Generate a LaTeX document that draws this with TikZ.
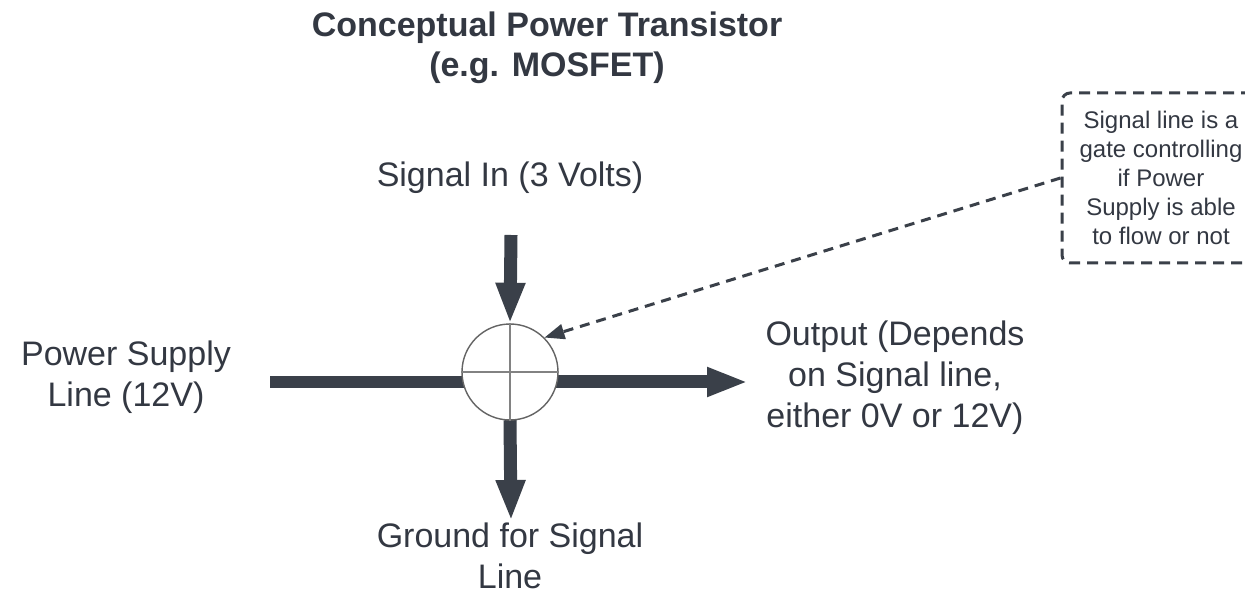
\documentclass[tikz,border=0pt]{standalone}
\usepackage{fontspec}
\setmainfont{Liberation Sans}
\usetikzlibrary{arrows.meta}
\definecolor{txt}{RGB}{51,56,66}
\definecolor{arr}{RGB}{58,64,73}
\definecolor{ring}{RGB}{100,100,100}
\definecolor{crossc}{RGB}{130,130,130}
\begin{document}
\begin{tikzpicture}[x=1pt,y=-1pt,
  lbl/.style={text=txt,align=center,inner sep=0pt,font=\fontsize{34}{41}\selectfont},
  small/.style={text=txt,align=center,inner sep=0pt,font=\fontsize{24}{29}\selectfont},
  thick arrow/.style={draw=arr,line width=13pt,-{Triangle[length=41pt,width=27pt]}},
  thick bar/.style={draw=arr,line width=12pt},
  dash link/.style={draw=arr,line width=3pt,dash pattern=on 10pt off 7pt,-{Triangle[length=20pt,width=15pt]}},
  note/.style={draw=arr,line width=3pt,dash pattern=on 11pt off 7pt,rounded corners=8pt,minimum width=198pt,minimum height=170pt,inner sep=0pt}
]
\useasboundingbox (0,0) rectangle (1245,593);
\fill[white] (0,0) rectangle (1245,593);

% titles and labels
\node[lbl,font=\fontsize{34}{40}\selectfont\bfseries] (title) at (547,48) {Conceptual Power Transistor\\(e.g. MOSFET)};
\node[lbl] (sigin) at (510,178) {Signal In (3 Volts)};
\node[lbl] (psl) at (126,377) {Power Supply\\Line (12V)};
\node[lbl] (outl) at (895,378) {Output (Depends\\on Signal line,\\either 0V or 12V)};
\node[lbl] (gnd) at (510,556) {Ground for Signal\\Line};

% coordinates
\coordinate (sigtop) at (511,235);
\coordinate (pstart) at (270,382);
\coordinate (pmid) at (520,382);
\coordinate (outtip) at (748,382);
\coordinate (gndtip) at (511,521);

% connectors (drawn before circle so the circle covers them)
\draw[thick bar] (pstart) -- (pmid);
\draw[thick arrow] (pmid) -- (outtip);
\node[circle,minimum size=96pt,inner sep=0pt] (c) at (510,372) {};
\draw[thick arrow] (sigtop) -- (c.north);
\draw[thick arrow] (c.south) -- (gndtip);

% transistor symbol
\node[circle,draw=ring,fill=white,line width=1.4pt,minimum size=96pt,inner sep=0pt] (cc) at (510,372) {};
\draw[crossc,line width=1.4pt] (cc.north) -- (cc.south);
\draw[crossc,line width=1.4pt] (cc.west) -- (cc.east);

% note box
\node[note,small] (box) at (1161,178) {Signal line is a\\gate controlling\\if Power\\Supply is able\\to flow or not};
\draw[dash link] (box.west) -- (cc.45);
\end{tikzpicture}
\end{document}
